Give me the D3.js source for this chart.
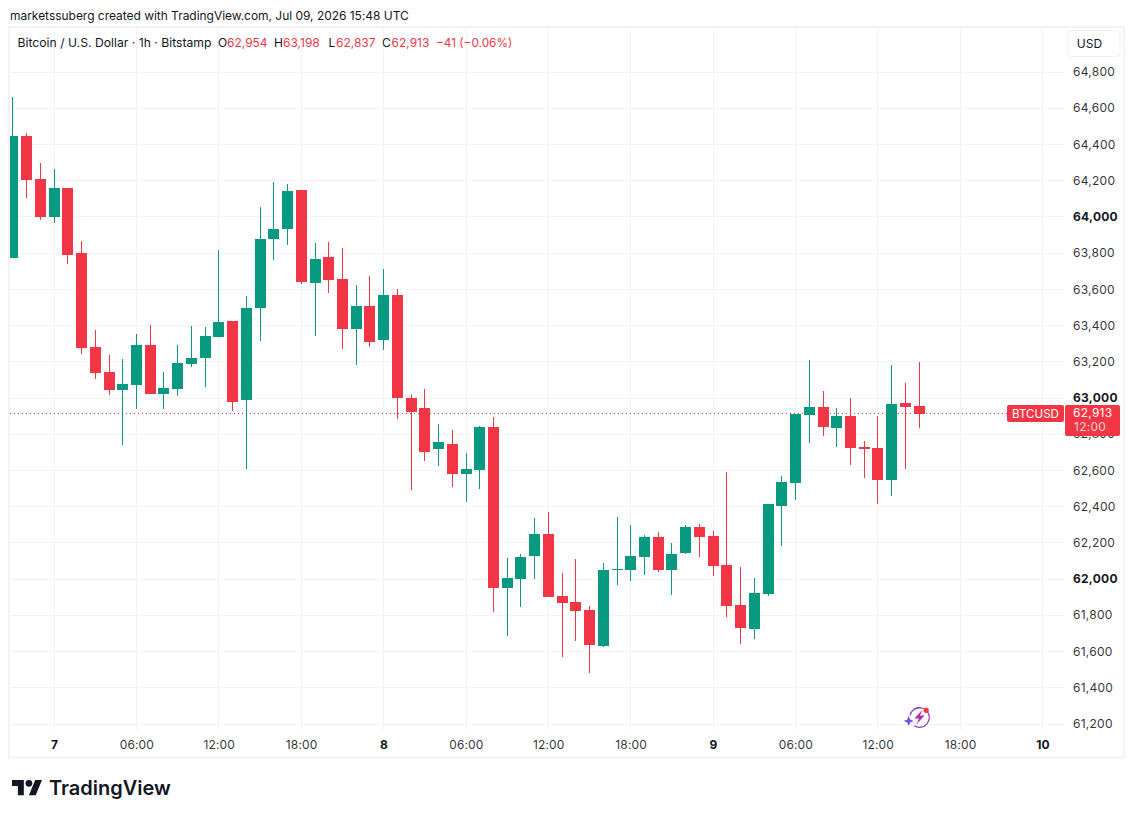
<!DOCTYPE html>
<html>
<head>
<meta charset="utf-8">
<script src="https://cdn.jsdelivr.net/npm/d3@7/dist/d3.min.js"></script>
<style>
html,body{margin:0;padding:0;background:#fff;}
svg{display:block;}
text{font-family:Inter,"Noto Sans",sans-serif;}
</style>
</head>
<body>
<svg id="chart" width="1134" height="818"></svg>
<script>
// Hourly candles, first bar = Jul 6 21:00 UTC
const firstBar = Date.UTC(2026, 6, 6, 21);
const opens  = [63773,64447,64210,64000,64160,63801,63282,63144,63044,63072,63293,63022,63050,63188,63221,63337,63425,62989,63497,63878,63933,64149,63635,63779,63657,63381,63508,63320,63569,63000,62945,62719,62746,62580,62603,62840,61951,62001,62128,62249,61907,61874,61830,61631,62053,62050,62122,62233,62050,62144,62288,62238,62078,61857,61725,61918,62404,62531,62906,62950,62835,62901,62730,62724,62547,62973,62954];
const highs  = [64662,64463,64298,64265,64160,63867,63376,63238,63216,63354,63403,63144,63293,63398,63392,63817,63425,63563,64055,64193,64182,64149,63856,63862,63828,63624,63674,63713,63602,63017,63050,62857,62823,62696,62846,62895,62117,62139,62338,62371,62034,62111,61852,62089,62343,62299,62244,62260,62199,62299,62304,62266,62592,62067,62006,62415,62569,62912,63210,63039,62945,63000,62763,62901,63182,63083,63198];
const lows   = [63773,64105,63983,63967,63740,63243,63105,63017,62741,62939,63022,62939,63011,63171,63061,63337,62928,62608,63315,63762,63845,63630,63343,63580,63271,63182,63282,63265,62884,62492,62652,62625,62509,62426,62498,61818,61686,61846,62001,61901,61570,61658,61482,61625,61968,61990,62023,62039,61912,62139,62122,62017,61791,61642,61669,61907,62183,62437,62752,62790,62730,62630,62558,62415,62459,62608,62837];
const closes = [64447,64204,64000,64160,63790,63276,63138,63044,63077,63293,63022,63055,63193,63221,63343,63420,62978,63497,63878,63933,64143,63641,63768,63652,63381,63508,63309,63569,63000,62923,62702,62757,62580,62608,62840,61951,62006,62122,62249,61901,61868,61824,61636,62050,62056,62128,62233,62050,62139,62288,62233,62072,61852,61730,61923,62415,62536,62912,62950,62840,62901,62724,62719,62547,62967,62950,62913];
const priceTicks = [64800,64600,64400,64200,64000,63800,63600,63400,63200,63000,62800,62600,62400,62200,62000,61800,61600,61400,61200];
const boldPrices = [64000,63000,62000];
const timeTicks = [[7,0],[7,6],[7,12],[7,18],[8,0],[8,6],[8,12],[8,18],[9,0],[9,6],[9,12],[9,18],[10,0]];
const watermark = "marketssuberg created with TradingView.com, Jul 09, 2026 15:48 UTC";
const symbolTitle = "Bitcoin / U.S. Dollar · 1h · Bitstamp";
const ohlcLabels = ["O","H","L","C"];
const lastOHLC = ["62,954","63,198","62,837","62,913"];
const lastChange = "−41 (−0.06%)";
const lastPrice = 62913;

const GREEN = "#089981", RED = "#F23645", INK = "#131722", GRID = "#f3f3f4", FRAME = "#f1f1f2";
const svg = d3.select("#chart");
const t = (d, h) => new Date(Date.UTC(2026, 6, d, h));
const x = d3.scaleUtc().domain([t(7,0), t(10,0)]).range([54.15, 1042.7]);
const y = d3.scaleLinear().domain([61200, 64800]).range([724, 72.1]);
const candles = opens.map((o,i)=>({o, h:highs[i], l:lows[i], c:closes[i], t:new Date(firstBar + i*3600e3)}));

// frame
svg.append("rect").attr("x",9).attr("y",27).attr("width",1115).attr("height",730.5)
  .attr("fill","none").attr("stroke",FRAME).attr("stroke-width",1.6);

const clip = svg.append("defs").append("clipPath").attr("id","pane");
clip.append("rect").attr("x",10).attr("y",28).attr("width",1054).attr("height",702);

// grid
const grid = svg.append("g").attr("clip-path","url(#pane)").attr("shape-rendering","crispEdges");
grid.selectAll(".h").data(priceTicks).join("rect")
  .attr("x",10).attr("width",1054).attr("y",d=>Math.floor(y(d))).attr("height",1).attr("fill",GRID);
grid.selectAll(".v").data(timeTicks).join("rect")
  .attr("y",28).attr("height",702).attr("x",d=>Math.floor(x(t(d[0],d[1])))).attr("width",1).attr("fill",GRID);

// last price dotted line
svg.append("line").attr("x1",10).attr("x2",1007).attr("y1",Math.floor(y(lastPrice))+.5).attr("y2",Math.floor(y(lastPrice))+.5)
  .attr("stroke",RED).attr("stroke-width",1).attr("stroke-dasharray","1 3");

// candles
const cg = svg.append("g").attr("clip-path","url(#pane)").attr("shape-rendering","crispEdges");
const col = d => d.c >= d.o ? GREEN : RED;
cg.selectAll(".wick").data(candles).join("rect")
  .attr("x",d=>Math.floor(x(d.t))).attr("width",1)
  .attr("y",d=>Math.round(y(d.h))).attr("height",d=>Math.max(1,Math.round(y(d.l))-Math.round(y(d.h))))
  .attr("fill",col);
cg.selectAll(".body").data(candles).join("rect")
  .attr("x",d=>Math.floor(x(d.t))-5).attr("width",11)
  .attr("y",d=>Math.round(y(Math.max(d.o,d.c))))
  .attr("height",d=>Math.max(1,Math.round(y(Math.min(d.o,d.c)))-Math.round(y(Math.max(d.o,d.c)))))
  .attr("fill",col);

// price axis
const fmt = d3.format(",");
const yAxis = d3.axisRight(y).tickValues(priceTicks).tickSize(0).tickPadding(0).tickFormat(fmt);
const ya = svg.append("g").attr("transform","translate(1073,0)").call(yAxis);
ya.select(".domain").remove();
ya.selectAll("text").attr("x",0).attr("dy",null).attr("y",3.6).attr("font-size",12).attr("fill",INK)
  .attr("fill-opacity",d=>boldPrices.includes(d)?1:0.9)
  .attr("font-weight",d=>boldPrices.includes(d)?700:400)
  .style("letter-spacing","0.25px")
  .style("font-family","Inter,sans-serif");

// time axis
const dates = timeTicks.map(d=>t(d[0],d[1]));
const xAxis = d3.axisBottom(x).tickValues(dates).tickSize(0).tickPadding(0)
  .tickFormat(d=>d.getUTCHours()===0 ? String(d.getUTCDate()) : d3.utcFormat("%H:%M")(d));
const xa = svg.append("g").attr("transform","translate(0,0)").call(xAxis);
xa.select(".domain").remove();
xa.selectAll("g.tick").attr("transform",d=>`translate(${x(d)+0.3},748.5)`);
xa.selectAll("text").attr("y",0).attr("dy",null).attr("font-size",12).attr("fill",INK)
  .attr("fill-opacity",d=>d.getUTCHours()===0?1:0.9)
  .attr("font-weight",d=>d.getUTCHours()===0?700:400)
  .style("letter-spacing","0.12px")
  .style("font-family","Inter,sans-serif");

// last price labels
svg.append("rect").attr("x",1007).attr("y",405).attr("width",57).attr("height",17).attr("rx",2).attr("fill",RED);
svg.append("text").attr("x",1035.5).attr("y",418).attr("text-anchor","middle").attr("font-size",11.6).attr("fill","#fff").text("BTCUSD");
svg.append("rect").attr("x",1065).attr("y",405).attr("width",55).attr("height",31).attr("rx",2).attr("fill",RED);
svg.append("text").attr("x",1073).attr("y",417).attr("font-size",12).attr("fill","#fff").style("letter-spacing","0.25px").text(fmt(lastPrice));
svg.append("text").attr("x",1074).attr("y",431).attr("font-size",12).attr("fill","#fff").attr("fill-opacity",.75).style("letter-spacing","0.25px").text("12:00");

// USD button
svg.append("rect").attr("x",1068).attr("y",30.5).attr("width",52).attr("height",26).attr("rx",4).attr("fill","#fff").attr("stroke","#efeff0");
svg.append("text").attr("x",1089.5).attr("y",47.7).attr("text-anchor","middle").attr("font-size",12).attr("fill",INK).text("USD");

// header
svg.append("text").attr("x",10).attr("y",20).attr("font-size",12).style("letter-spacing","-0.03px").attr("fill",INK).text(watermark);
svg.append("text").attr("x",17.5).attr("y",47).attr("font-size",12.2).attr("fill",INK).text(symbolTitle);
const legendX = [[218,227],[274,283],[328.5,336],[382,391.5]];
ohlcLabels.forEach((l,i)=>{
  svg.append("text").attr("x",legendX[i][0]).attr("y",47).attr("font-size",12).attr("fill",INK).text(l);
  svg.append("text").attr("x",legendX[i][1]).attr("y",47).attr("font-size",12).attr("fill",RED).text(lastOHLC[i]);
});
svg.append("text").attr("x",436).attr("y",47).attr("font-size",11.8).attr("fill",RED).text(lastChange);

// spark icon
const ic = svg.append("g").attr("transform","translate(919.5,717.5)");
const grad = svg.select("defs").append("linearGradient").attr("id","ig").attr("x1","0").attr("y1","1").attr("x2","1").attr("y2","0");
grad.append("stop").attr("offset","0").attr("stop-color","#7b3ff2");
grad.append("stop").attr("offset","1").attr("stop-color","#c0309a");
ic.append("path").attr("d",d3.arc()({innerRadius:9.2,outerRadius:10.4,startAngle:-0.6,endAngle:3.7})).attr("fill","url(#ig)");
ic.append("path").attr("d",d3.arc()({innerRadius:9.2,outerRadius:10.4,startAngle:-1.35,endAngle:0.15})).attr("fill","#9a35c8");
ic.append("path").attr("d","M3,-8 L-5,1 L-0.5,1 L-3,7 L5,-2 L0.5,-2 Z").attr("fill","#a92fb0");
ic.append("path").attr("d","M-10.8,-1.5 L-9.4,2.1 L-5.8,3.5 L-9.4,4.9 L-10.8,8.5 L-12.2,4.9 L-15.8,3.5 L-12.2,2.1 Z").attr("fill","#6f4ef2");
ic.append("circle").attr("cx",6.7).attr("cy",-7.2).attr("r",2.6).attr("fill",RED);

// TradingView logo
svg.append("path").attr("d","M14 22H7V11H0V4h14v18zM28 22h-8l7.5-18h8L28 22z")
  .attr("transform","translate(12,776.6) scale(0.845)").attr("fill",INK);
svg.append("circle").attr("cx",12+20*0.845).attr("cy",776.6+8*0.845).attr("r",4*0.845).attr("fill",INK);
svg.append("text").attr("x",49).attr("y",795).attr("font-size",20).attr("font-weight",600).attr("fill",INK).text("TradingView");
</script>
</body>
</html>
